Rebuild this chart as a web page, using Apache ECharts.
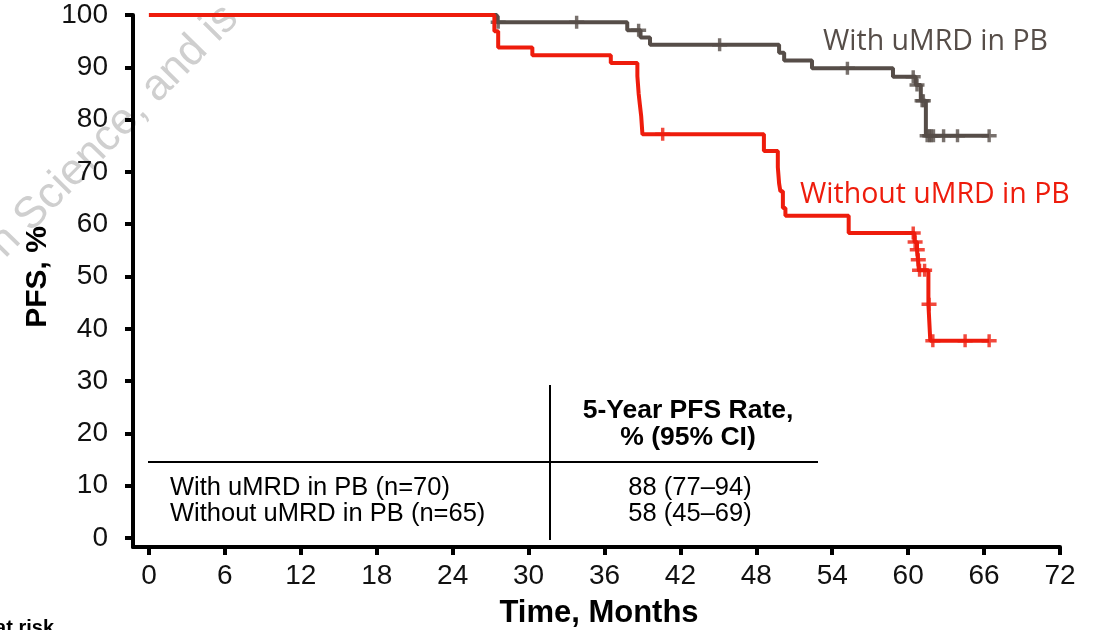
<!DOCTYPE html>
<html>
<head>
<meta charset="utf-8">
<script src="https://cdn.jsdelivr.net/npm/echarts@6.0.0/dist/echarts.min.js"></script>
<style>
  html, body { margin: 0; padding: 0; background: #fff; }
  #chart { width: 1101px; height: 630px; }
</style>
</head>
<body>
<div id="chart"></div>
<script>
const xTicks = [0, 6, 12, 18, 24, 30, 36, 42, 48, 54, 60, 66, 72]
const yTicks = [0, 10, 20, 30, 40, 50, 60, 70, 80, 90, 100]

// with uMRD in PB: KM steps (month, PFS %)
const withTimes = [0, 27.5, 37.8, 38.85, 39.6, 49.8, 50.2, 52.4, 58.8, 60.6, 61.0, 61.4, 66.4]
const withPfs = [100, 98.6, 97.1, 95.7, 94.3, 92.8, 91.3, 89.8, 88.2, 86.6, 83.6, 76.9, 76.9]
const withCensored = [27.6, 33.8, 38.7, 45.1, 55.2, 60.4, 60.7, 61.1, 61.2, 61.5, 61.7, 61.8, 62.0, 62.8, 63.9, 66.4]

// without uMRD in PB
const withoutTimes = [0, 27.3, 27.6, 30.3, 36.5, 38.6, 38.7, 38.8, 38.9, 39.0, 48.6, 49.7, 49.8, 49.9, 50.1, 50.3, 55.3, 60.5, 60.7, 60.78, 60.85, 61.6, 61.75, 66.4]
const withoutPfs = [100, 96.9, 93.8, 92.3, 90.8, 88.3, 85.0, 82.8, 80.7, 77.2, 74.0, 70.9, 67.8, 66.3, 63.1, 61.6, 58.3, 56.6, 55.1, 53.2, 51.2, 44.7, 37.7, 37.7]
const withoutCensored = [40.6, 60.4, 60.55, 60.72, 60.8, 60.9, 61.3, 61.65, 61.95, 64.5, 66.4]

const tableRows = ['With uMRD in PB (n=70)', 'Without uMRD in PB (n=65)']
const tableRates = ['88 (77–94)', '58 (45–69)']

const GRAY = '#564d48'
const RED = '#ee1c0c'
const CROSS = 'path://M-1.6,-6H1.6V-1.6H7V1.6H1.6V6H-1.6V1.6H-7V-1.6H-1.6Z'

function pfsAt(times, pfs, t) {
  let v = pfs[0]
  for (let i = 0; i < times.length; i++) {
    if (times[i] <= t) v = pfs[i]
  }
  return v
}

const zip = (ts, vs) => ts.map((t, i) => [t, vs[i]])
const censorPts = (cs, ts, vs) => cs.map(t => [t, pfsAt(ts, vs, t)])

const chart = echarts.init(document.getElementById('chart'))

const axisFont = { fontFamily: 'Liberation Sans', fontSize: 28, color: '#111' }

chart.setOption({
  animation: false,
  grid: { left: 133, right: 41, top: 15, bottom: 83 },
  xAxis: {
    type: 'value',
    min: -1.26,
    max: 72,
    axisLine: { onZero: false, lineStyle: { color: '#000', width: 4 } },
    axisTick: { customValues: xTicks, length: 8, lineStyle: { color: '#000', width: 4 } },
    axisLabel: { customValues: xTicks, margin: 15, ...axisFont },
    splitLine: { show: false }
  },
  yAxis: {
    type: 'value',
    min: -1.72,
    max: 100,
    axisLine: { show: true, onZero: false, lineStyle: { color: '#000', width: 4 } },
    axisTick: { show: true, customValues: yTicks, length: 8, lineStyle: { color: '#000', width: 4 } },
    axisLabel: { customValues: yTicks, margin: 25, ...axisFont },
    splitLine: { show: false }
  },
  series: [
    {
      name: 'With uMRD in PB',
      type: 'line',
      step: 'end',
      data: zip(withTimes, withPfs),
      showSymbol: false,
      lineStyle: { color: GRAY, width: 4 },
      z: 2
    },
    {
      type: 'scatter',
      data: censorPts(withCensored, withTimes, withPfs),
      symbol: CROSS,
      symbolSize: [15, 13],
      itemStyle: { color: GRAY },
      z: 3
    },
    {
      name: 'Without uMRD in PB',
      type: 'line',
      step: 'end',
      data: zip(withoutTimes, withoutPfs),
      showSymbol: false,
      lineStyle: { color: RED, width: 4 },
      z: 4
    },
    {
      type: 'scatter',
      data: censorPts(withoutCensored, withoutTimes, withoutPfs),
      symbol: CROSS,
      symbolSize: [15, 13],
      itemStyle: { color: RED },
      z: 5
    }
  ],
  graphic: [
    // watermark
    {
      type: 'text', x: 12, y: 266, rotation: 45.5 * Math.PI / 180, z: 0, silent: true,
      style: { text: 'n Science, and is', font: '44px "Liberation Sans"', fill: '#cfcfcf', verticalAlign: 'bottom' }
    },
    // curve labels
    {
      type: 'text', x: 823, y: 42,
      style: { text: 'With uMRD in PB', font: '28.5px "Open Sans"', fill: GRAY, verticalAlign: 'middle' }
    },
    {
      type: 'text', x: 800, y: 195,
      style: { text: 'Without uMRD in PB', font: '28.5px "Open Sans"', fill: RED, verticalAlign: 'middle' }
    },
    // axis titles
    {
      type: 'text', x: 38, y: 277, rotation: Math.PI / 2,
      style: { text: 'PFS, %', font: 'bold 30px "Liberation Sans"', fill: '#000', align: 'center', verticalAlign: 'middle' }
    },
    {
      type: 'text', x: 599, y: 613,
      style: { text: 'Time, Months', font: 'bold 31px "Liberation Sans"', fill: '#000', align: 'center', verticalAlign: 'middle' }
    },
    {
      type: 'text', x: 54, y: 638,
      style: { text: 'No. at risk', font: 'bold 20px "Liberation Sans"', fill: '#000', align: 'right', verticalAlign: 'bottom' }
    },
    // table
    { type: 'line', shape: { x1: 550, y1: 385, x2: 550, y2: 540 }, style: { stroke: '#000', lineWidth: 2 } },
    { type: 'line', shape: { x1: 148, y1: 462, x2: 818, y2: 462 }, style: { stroke: '#000', lineWidth: 2 } },
    {
      type: 'text', x: 688, y: 424,
      style: { text: '5-Year PFS Rate,\n% (95% CI)', font: 'bold 26.5px "Liberation Sans"', lineHeight: 27, fill: '#000', align: 'center', verticalAlign: 'middle' }
    },
    ...tableRows.map((t, i) => ({
      type: 'text', x: 170, y: 488 + i * 26,
      style: { text: t, font: '25.5px "Liberation Sans"', fill: '#000', verticalAlign: 'middle' }
    })),
    ...tableRates.map((t, i) => ({
      type: 'text', x: 690, y: 488 + i * 26,
      style: { text: t, font: '25.5px "Liberation Sans"', fill: '#000', align: 'center', verticalAlign: 'middle' }
    }))
  ]
})

window.addEventListener('resize', () => chart.resize())
</script>
</body>
</html>
